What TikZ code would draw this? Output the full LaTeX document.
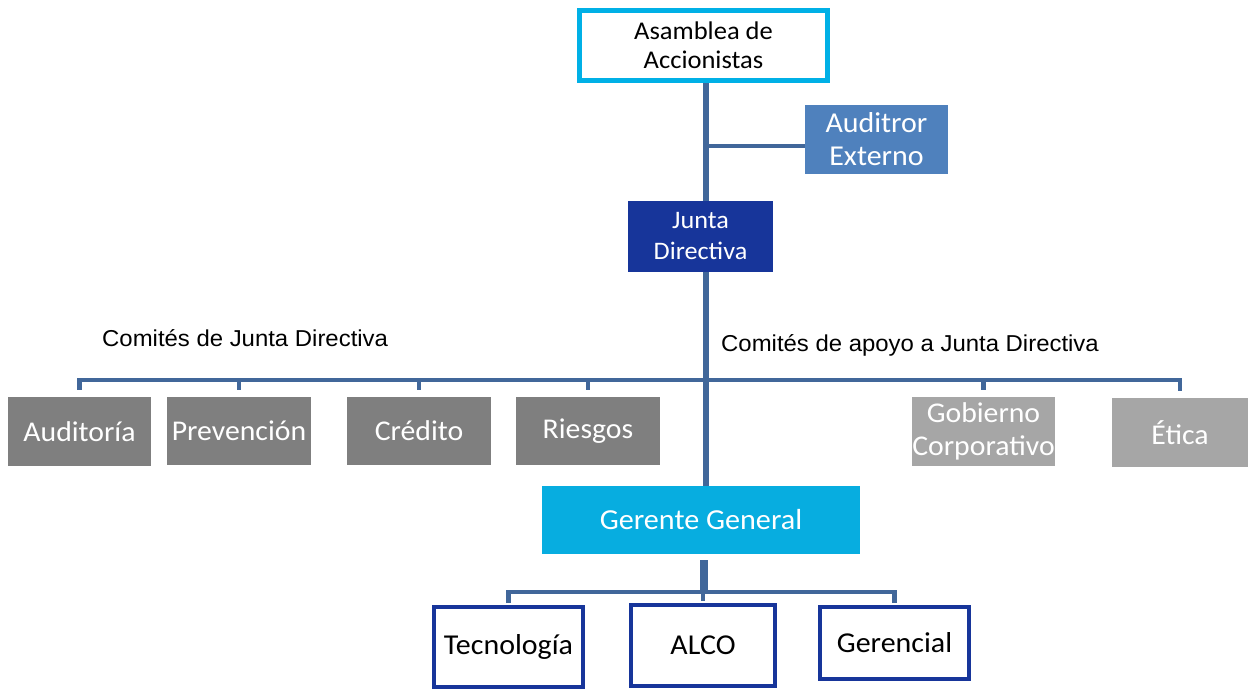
\documentclass[tikz,border=0pt]{standalone}
\usepackage{fontspec}
\setmainfont{Carlito}[FakeStretch=1.04]
\newfontfamily\arialf{Liberation Sans}[FakeStretch=1.04]
\definecolor{lblue}{HTML}{00B0E6}
\definecolor{audc}{HTML}{4F81BD}
\definecolor{dblue}{HTML}{17359A}
\definecolor{connc}{HTML}{41679A}
\definecolor{dgray}{HTML}{7F7F7F}
\definecolor{lgray}{HTML}{A6A6A6}
\definecolor{ggc}{HTML}{07ADE0}
\tikzset{
  fbox/.style={inner sep=0pt, align=center, text=white, font=\fontsize{28.6}{30}\selectfont},
  dcom/.style={fbox, fill=dgray},
  lcom/.style={fbox, fill=lgray},
  obox/.style={draw=dblue, line width=4pt, fill=white, inner sep=0pt, align=center, font=\fontsize{28.8}{30}\selectfont},
  conn/.style={draw=connc, line width=4.5pt},
  lab/.style={font=\arialf\fontsize{23}{26}\selectfont, anchor=west, inner sep=0pt}
}
\begin{document}
\begin{tikzpicture}[x=1pt,y=-1pt]
\useasboundingbox (0,0) rectangle (1248,690);
% nodes
\node[draw=lblue, line width=5pt, fill=white, minimum width=248pt, minimum height=70pt, inner sep=0pt, align=center, font=\fontsize{25.5}{29}\selectfont] (asam) at (703.5,45.5) {Asamblea de\\Accionistas};
\node[fbox, fill=audc, minimum width=143pt, minimum height=69pt, font=\fontsize{28.8}{33}\selectfont] (aud) at (876.5,139.5) {Auditror\\Externo};
\node[fbox, fill=dblue, minimum width=145pt, minimum height=71pt, font=\fontsize{25.2}{31}\selectfont] (junta) at (700.5,236.5) {Junta\\Directiva};
\node[dcom, minimum width=143pt, minimum height=69pt] (c1) at (79.5,431.5) {Auditoría};
\node[dcom, minimum width=144pt, minimum height=68pt] (c2) at (239,431) {Prevención};
\node[dcom, minimum width=144pt, minimum height=68pt] (c3) at (419,431) {Crédito};
\node[dcom, minimum width=144pt, minimum height=68pt] (c4) at (588,431) {Riesgos};
\node[lcom, minimum width=143pt, minimum height=69pt, font=\fontsize{28.6}{33}\selectfont] (c5) at (983.5,431.5) {Gobierno\\Corporativo};
\node[lcom, minimum width=136pt, minimum height=69pt] (c6) at (1180,432.5) {Ética};
\node[fbox, fill=ggc, minimum width=318pt, minimum height=68pt, font=\fontsize{29}{30}\selectfont] (gg) at (701,520) {Gerente General};
\node[obox, minimum width=149pt, minimum height=80pt] (t1) at (508.5,647) {Tecnología};
\node[obox, minimum width=144pt, minimum height=81pt] (t2) at (703,645.5) {ALCO};
\node[obox, minimum width=149pt, minimum height=72pt] (t3) at (894.5,643) {Gerencial};
% labels
\node[lab] (l1) at (102,338) {Comités de Junta Directiva};
\node[lab] (l2) at (721,345) {Comités de apoyo a Junta Directiva};
% connectors
\coordinate (spine) at (706,146);
\coordinate (bar) at (706,380);
\coordinate (gbar) at (704,592);
\draw[conn, line width=6pt] (asam.south -| spine) -- (junta.north -| spine);
\draw[conn] (spine) -- (aud.west |- spine);
\draw[conn, line width=6pt] (junta.south -| spine) -- (gg.north -| spine);
\draw[conn] ([yshift=7pt]c1.north) |- (c6.north |- bar) -- ([yshift=7pt]c6.north);
\foreach \n in {c2,c3,c4,c5}{
  \draw[conn] ([yshift=7pt]\n.north) -- (\n.north |- bar);
}
\draw[conn, line width=8pt] ([yshift=-6pt]gg.south -| gbar) -- (gbar);
\draw[conn] ([yshift=2pt]t1.north) |- (t3.north |- gbar) -- ([yshift=2pt]t3.north);
\draw[conn] ([yshift=2pt]t2.north) -- (t2.north |- gbar);
\end{tikzpicture}
\end{document}
